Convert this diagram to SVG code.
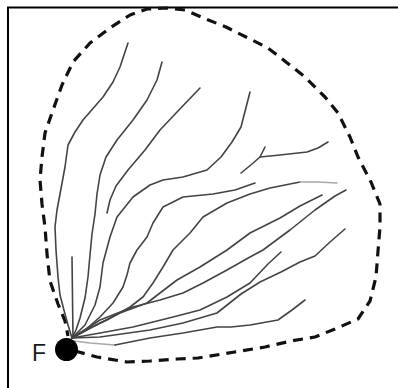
<svg xmlns="http://www.w3.org/2000/svg" width="398" height="388" viewBox="0 0 398 388">
<style>
.frame{fill:none;stroke:#000;stroke-width:2}
.bound{fill:none;stroke:#111;stroke-width:3.2;stroke-dasharray:10 7;stroke-linejoin:round}
.ln{fill:none;stroke:#444;stroke-width:1.6;stroke-linejoin:round;stroke-linecap:round}
.lg{fill:none;stroke:#a8a8a8;stroke-width:1.6;stroke-linecap:round}
.lbl{font-family:"Liberation Sans",Arial,sans-serif;font-size:23px;fill:#1a1a1a}
</style>
<rect width="398" height="388" fill="#fff"/>
<path class="frame" d="M8,388 V7.5 H398"/>
<g id="boundary">
<polyline class="bound" points="75,351 97,357 127,362 150,361 177,359 198,358 241,351 265,347 291,341 315,337 335,329 358,319 370,301 376,277 378,251 380,227 380,204 371,182 358,157 350,137 338,113 325,97 305,77 286,62 268,48 246,37 226,27 201,17 185,10 167,8 147,9 130,15 110,28 90,43 73,62 62,85 53,110 45,133 42,157 40,180 42,204 45,227 47,254 50,281 58,304 65,321 68,336"/>
</g>
<g id="connectors">
<polyline class="ln" points="72,338 68,325 65,314 60,295 58,277 56,250 55,227 57,210 60,194 65,167 68,145 75,132 83,120 103,97 113,82 120,67 128,43"/>
<polyline class="ln" points="72,257 73,338"/>
<polyline class="ln" points="72,338 76,330 80,318 85,298 88,277 90,255 92,234 95,214 97,194 100,175 106,157 117,140 133,120 147,100 157,80 162,62"/>
<polyline class="ln" points="107,213 110,200 116,186 128,170 145,150 160,130 177,112 200,88"/>
<polyline class="ln" points="72,338 85,325 95,305 100,287 103,263 110,237 117,217 133,197 150,185 163,180 183,177 207,170 221,157 232,142 241,127 250,92"/>
<polyline class="ln" points="241,173 252,164 260,157 265,147"/>
<polyline class="ln" points="260,157 280,155 307,152 318,148 328,142"/>
<polyline class="ln" points="72,338 85,330 100,317 113,303 123,287 127,275 130,263 137,250 147,237 153,223 163,207 183,197 213,194 235,190 255,183"/>
<polyline class="ln" points="72,338 90,328 107,320 130,307 143,297 153,283 163,267 173,250 190,233 203,217 227,203 250,194 270,188 300,182"/>
<polyline class="lg" points="300,182 318,182 337,183"/>
<polyline class="ln" points="72,338 100,323 120,313 147,303 160,293 177,280 200,267 227,250 250,233 280,218 300,206 322,195"/>
<polyline class="ln" points="72,338 100,320 133,307 160,300 183,293 203,283 227,270 250,257 263,250 290,230 315,210 335,196 346,190"/>
<polyline class="ln" points="72,338 100,333 133,327 173,317 200,310 227,297 250,283 268,264 281,252"/>
<polyline class="ln" points="72,338 100,337 150,330 183,323 217,313 241,294 260,282 281,272 300,262 315,256 330,242 345,229"/>
<polyline class="lg" points="74,341 90,343 115,345"/>
<polyline class="ln" points="115,345 150,338 183,333 217,327 231,327 250,325 278,320 292,310 305,300"/>
</g>
<g id="F">
<circle cx="66.5" cy="349.5" r="11.5" fill="#000"/>
<text class="lbl" x="32" y="361">F</text>
</g>
</svg>
